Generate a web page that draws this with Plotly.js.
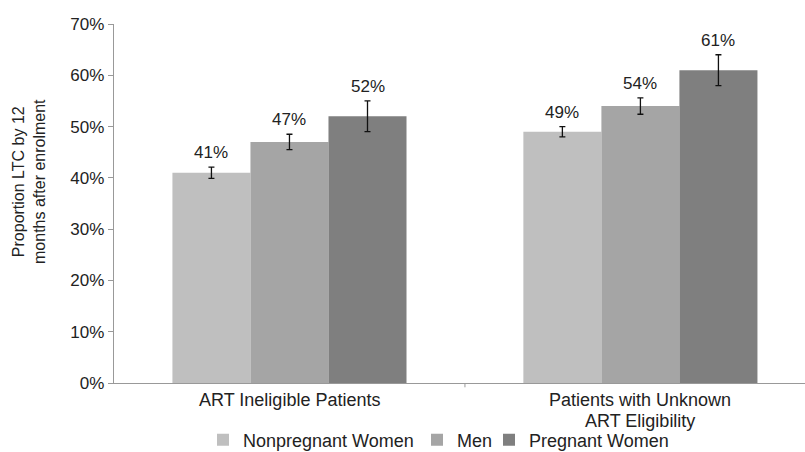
<!DOCTYPE html>
<html>
<head>
<meta charset="utf-8">
<script src="https://cdn.plot.ly/plotly-3.0.1.min.js"></script>
<style>html,body{margin:0;padding:0;background:#fff;overflow:hidden}#chart{width:805px;height:452px}</style>
</head>
<body>
<div id="chart"></div>
<script>
var categories = ["ART Ineligible Patients", "Patients with Unknown<br>ART Eligibility"];
var seriesNames = ["Nonpregnant Women", "Men", "Pregnant Women"];
var nonpregnantWomen = [41, 49];
var men = [47, 54];
var pregnantWomen = [52, 61];
var nonpregnantErr = [1.1, 1.0];
var menErr = [1.5, 1.6];
var pregnantErr = [3.0, 3.0];
var yTickValues = [0, 10, 20, 30, 40, 50, 60, 70];
var yTickLabels = ["0%", "10%", "20%", "30%", "40%", "50%", "60%", "70%"];
var colors = ["#bfbfbf", "#a5a5a5", "#7f7f7f"];

var FONT = "Liberation Sans, Arial, sans-serif";
var values = [nonpregnantWomen, men, pregnantWomen];
var errs = [nonpregnantErr, menErr, pregnantErr];
var bargap = 0.333;
var catIdx = categories.map(function(_, i){ return i; });
var legendIds = ["legend", "legend2", "legend3"];
var legendLeftPx = [203, 417, 489];

var traces = values.map(function(v, j){
  return {
    type: "bar",
    name: seriesNames[j],
    legend: legendIds[j],
    x: catIdx,
    y: v,
    marker: {color: colors[j]},
    error_y: {type: "data", array: errs[j], visible: true, color: "#111", thickness: 1.3, width: 3},
    hoverinfo: "skip"
  };
});

var annotations = [];
var n = values.length;
var bw = (1 - bargap) / n;
values.forEach(function(v, j){
  v.forEach(function(val, i){
    annotations.push({
      x: i + (j - (n - 1) / 2) * bw,
      y: val + errs[j][i],
      xref: "x", yref: "y",
      text: val + "%",
      showarrow: false,
      yanchor: "bottom",
      yshift: 3,
      font: {family: FONT, size: 17, color: "#222"}
    });
  });
});
categories.forEach(function(cat, i){
  cat.split("<br>").forEach(function(line, k){
    annotations.push({
      x: i, y: 0, xref: "x", yref: "paper",
      text: line,
      showarrow: false,
      xanchor: "center", yanchor: "top",
      yshift: -5 - k * 21,
      font: {family: FONT, size: 18, color: "#222"}
    });
  });
});
annotations.push({
  xref: "paper", yref: "paper",
  x: -0.123, y: 0.56,
  text: "Proportion LTC by 12<br>months after enrolment",
  textangle: -90,
  showarrow: false,
  xanchor: "center", yanchor: "middle",
  font: {family: FONT, size: 16, color: "#222"}
});

var W = 805, H = 452, ML = 114, MR = 0, MT = 24, MB = 69;
var layout = {
  width: W, height: H,
  margin: {l: ML, r: MR, t: MT, b: MB, pad: 0},
  paper_bgcolor: "#fff", plot_bgcolor: "#fff",
  barmode: "group",
  bargap: bargap,
  bargroupgap: 0,
  showlegend: true,
  xaxis: {
    type: "linear",
    range: [-0.5, 1.469],
    tickmode: "array",
    tickvals: catIdx,
    ticktext: catIdx.map(function(){ return ""; }),
    showgrid: false,
    zeroline: false,
    showline: true,
    linecolor: "#999",
    linewidth: 1.3,
    ticks: "",
    fixedrange: true
  },
  yaxis: {
    range: [0, 70],
    tickmode: "array",
    tickvals: yTickValues,
    ticktext: yTickLabels,
    showgrid: false,
    zeroline: false,
    showline: true,
    linecolor: "#999",
    linewidth: 1.3,
    ticks: "outside",
    ticklen: 5,
    tickcolor: "#999",
    tickfont: {family: FONT, size: 17, color: "#222"},
    fixedrange: true
  },
  shapes: [{
    type: "line", xref: "x", yref: "paper",
    x0: 0.5, x1: 0.5, y0: 0, y1: -0.012,
    line: {color: "#999", width: 1}
  }],
  annotations: annotations
};
legendIds.forEach(function(id, j){
  layout[id] = {
    orientation: "h",
    xref: "container", yref: "container",
    x: legendLeftPx[j] / W, xanchor: "left",
    y: (H - 440) / H, yanchor: "middle",
    font: {family: FONT, size: 18, color: "#222"},
    bgcolor: "rgba(0,0,0,0)",
    borderwidth: 0
  };
});

Plotly.newPlot("chart", traces, layout, {displayModeBar: false, staticPlot: true});
</script>
</body>
</html>
